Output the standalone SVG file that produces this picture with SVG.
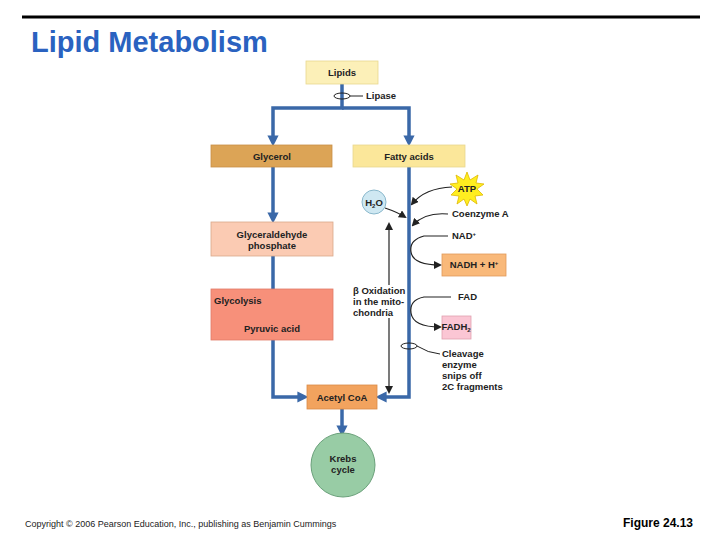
<svg xmlns="http://www.w3.org/2000/svg" width="720" height="540" viewBox="0 0 720 540">
<defs>
<style>
text{font-family:"Liberation Sans",Arial,sans-serif;font-weight:bold;font-size:9.5px;fill:#222}
.c{text-anchor:middle}
.b{stroke:#3a68a8;stroke-width:3.5;fill:none}
.k{stroke:#222;stroke-width:1.2;fill:none}
.bx{stroke:#d9a88a;stroke-width:0.8}
</style>
<marker id="ab" markerWidth="3.2" markerHeight="3.2" refX="1.6" refY="1.6" orient="auto" markerUnits="strokeWidth"><path d="M0,0L3.2,1.6L0,3.2z" fill="#3a68a8"/></marker>
<marker id="ak" markerWidth="8" markerHeight="8" refX="6" refY="4" orient="auto" markerUnits="userSpaceOnUse"><path d="M0,0L8,4L0,8z" fill="#222"/></marker>
</defs>
<rect width="720" height="540" fill="#fff"/>
<line x1="22" y1="17" x2="700" y2="17" stroke="#000" stroke-width="3"/>
<text x="31" y="52" style="font-size:29px;fill:#2a62c0">Lipid Metabolism</text>
<g id="connectors">
<path class="b" d="M342,84V108H273V141" marker-end="url(#ab)"/>
<path class="b" d="M342,108H409V141" marker-end="url(#ab)"/>
<path class="b" d="M273,167V218" marker-end="url(#ab)"/>
<path class="b" d="M273,256V308" marker-end="url(#ab)"/>
<path class="b" d="M273,340V397H303" marker-end="url(#ab)"/>
<path class="b" d="M409,167V397H381" marker-end="url(#ab)"/>
<path class="b" d="M342,409V431" marker-end="url(#ab)"/>
<line class="k" x1="389" y1="285" x2="389" y2="224" marker-end="url(#ak)"/>
<line class="k" x1="389" y1="318" x2="389" y2="392" marker-end="url(#ak)"/>
<path class="k" d="M385,208Q397,212 405,217" marker-end="url(#ak)"/>
<path class="k" d="M452,187Q425,188 412,204" marker-end="url(#ak)"/>
<path class="k" d="M448,214Q425,212 413,225" marker-end="url(#ak)"/>
<path class="k" d="M448,236H424Q409,240 411,252Q413,265 440,265" marker-end="url(#ak)"/>
<path class="k" d="M451,297H424Q409,300 411,313Q413,327 440,327" marker-end="url(#ak)"/>
<ellipse cx="342" cy="96" rx="8" ry="3" fill="none" stroke="#222"/>
<line x1="350" y1="96" x2="363" y2="96" stroke="#222"/>
<ellipse cx="409" cy="346" rx="8" ry="3" fill="none" stroke="#222"/>
<path d="M417,346Q428,353 440,354" fill="none" stroke="#222"/>
</g>
<g id="lipids"><rect x="306" y="61" width="72" height="23" fill="#fcf0b8" stroke="#e8d890" stroke-width="0.8"/><text x="342" y="76" class="c">Lipids</text></g>
<text x="366" y="99">Lipase</text>
<g id="glycerol"><rect x="211" y="145" width="121" height="22" fill="#dca456" stroke="#c88f48" stroke-width="0.8"/><text x="272" y="160" class="c">Glycerol</text></g>
<g id="fatty"><rect x="353" y="145" width="112" height="22" fill="#fbe79a" stroke="#e8d890" stroke-width="0.8"/><text x="409" y="160" class="c">Fatty acids</text></g>
<g id="gap"><rect x="211" y="222" width="122" height="34" class="bx" fill="#fbcbb3"/><text x="272" y="238" class="c">Glyceraldehyde</text><text x="272" y="249" class="c">phosphate</text></g>
<g id="glycolysis"><rect x="211" y="289" width="122" height="51" fill="#f7907a" stroke="#e07a68" stroke-width="0.8"/><text x="214" y="304">Glycolysis</text><text x="272" y="332" class="c">Pyruvic acid</text></g>
<g id="acetyl"><rect x="307" y="385" width="70" height="24" fill="#f2a35e" stroke="#d98b48" stroke-width="0.8"/><text x="342" y="401" class="c">Acetyl CoA</text></g>
<g id="krebs"><circle cx="343" cy="465" r="32" fill="#98cca5" stroke="#6aa07a"/><text x="343" y="462" class="c">Krebs</text><text x="343" y="473" class="c">cycle</text></g>
<g id="h2o"><circle cx="374" cy="202" r="12" fill="#cfe8f2" stroke="#8ab8cc"/><text x="374" y="206" class="c">H<tspan style="font-size:6px" dy="2">2</tspan><tspan dy="-2">O</tspan></text></g>
<g id="atp"><polygon points="467,172 470,180 478,175 476,183 484,184 477,189 483,195 475,196 477,204 470,199 467,206 464,199 457,204 459,196 451,195 457,189 450,184 458,183 456,175 464,180" fill="#ffee20" stroke="#e0b800" stroke-width="0.8"/><text x="467" y="192" class="c">ATP</text></g>
<text x="452" y="217">Coenzyme A</text>
<text x="452" y="239">NAD<tspan style="font-size:6px" dy="-3">+</tspan></text>
<g id="nadh"><rect x="442" y="254" width="64" height="22" fill="#f9b97a" stroke="#e09a5a" stroke-width="0.8"/><text x="474" y="268" class="c">NADH + H<tspan style="font-size:6px" dy="-3">+</tspan></text></g>
<text x="458" y="300">FAD</text>
<g id="fadh2"><rect x="442" y="316" width="29" height="23" fill="#fbc6d4" stroke="#e0a0b0" stroke-width="0.8"/><text x="456" y="330" class="c">FADH<tspan style="font-size:6px" dy="2">2</tspan></text></g>
<text x="353" y="294">β Oxidation</text>
<text x="353" y="305">in the mito-</text>
<text x="353" y="316">chondria</text>
<text x="442" y="357">Cleavage</text>
<text x="442" y="368">enzyme</text>
<text x="442" y="379">snips off</text>
<text x="442" y="390">2C fragments</text>
<text x="25" y="527" style="font-weight:normal;font-size:9px">Copyright © 2006 Pearson Education, Inc., publishing as Benjamin Cummings</text>
<text x="623" y="527" style="font-size:12px;fill:#000">Figure 24.13</text>
</svg>
